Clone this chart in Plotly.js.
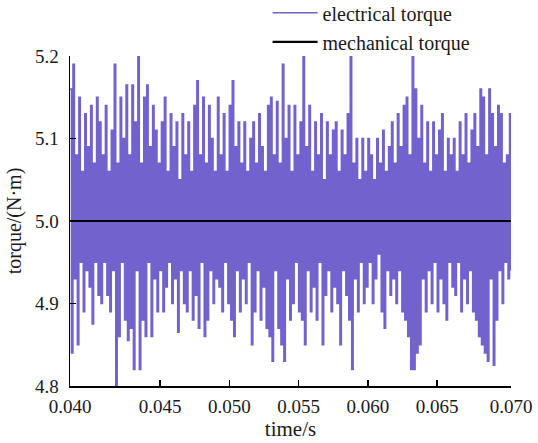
<!DOCTYPE html>
<html>
<head>
<meta charset="utf-8">
<script src="https://cdn.plot.ly/plotly-3.0.1.min.js"></script>
<style>
  html, body { margin: 0; padding: 0; background: #ffffff; }
  #chart { width: 538px; height: 443px; }
</style>
</head>
<body>
<div id="chart"></div>
<script>
// Electrical torque: successive peak (upper) and trough (lower) values
const upperPeaks = [
  5.16, 5.19, 5.08, 5.15, 5.06, 5.13, 5.09, 5.14, 5.07, 5.15,
  5.12, 5.08, 5.14, 5.06, 5.11, 5.19, 5.07, 5.15, 5.10, 5.165,
  5.08, 5.165, 5.12, 5.20, 5.07, 5.15, 5.165, 5.09, 5.14, 5.11,
  5.07, 5.12, 5.15, 5.06, 5.13, 5.09, 5.12, 5.05, 5.13, 5.08,
  5.12, 5.06, 5.14, 5.17, 5.08, 5.15, 5.07, 5.14, 5.10, 5.06,
  5.15, 5.08, 5.13, 5.06, 5.14, 5.17, 5.09, 5.12, 5.07, 5.12,
  5.06, 5.10, 5.12, 5.07, 5.13, 5.09, 5.06, 5.14, 5.15, 5.08,
  5.145, 5.07, 5.19, 5.10, 5.14, 5.06, 5.14, 5.08, 5.12, 5.20,
  5.09, 5.14, 5.06, 5.12, 5.08, 5.13, 5.05, 5.12, 5.08, 5.11,
  5.12, 5.06, 5.11, 5.08, 5.13, 5.20, 5.07, 5.10, 5.05, 5.10,
  5.06, 5.10, 5.08, 5.05, 5.10, 5.07, 5.11, 5.06, 5.09, 5.12,
  5.07, 5.13, 5.09, 5.14, 5.15, 5.08, 5.20, 5.16, 5.10, 5.14,
  5.07, 5.12, 5.06, 5.12, 5.08, 5.11, 5.13, 5.06, 5.10, 5.08,
  5.10, 5.06, 5.12, 5.08, 5.13, 5.07, 5.11, 5.13, 5.09, 5.16,
  5.15, 5.08, 5.16, 5.13, 5.09, 5.14, 5.13, 5.07, 5.08, 5.13
];
const lowerTroughs = [
  4.84, 4.93, 4.85, 4.95, 4.89, 4.94, 4.92, 4.875, 4.95, 4.91,
  4.90, 4.95, 4.91, 4.89, 4.94, 4.80, 4.86, 4.95, 4.88, 4.855,
  4.87, 4.82, 4.94, 4.82, 4.88, 4.86, 4.95, 4.86, 4.93, 4.89,
  4.94, 4.89, 4.92, 4.95, 4.90, 4.93, 4.865, 4.94, 4.90, 4.89,
  4.94, 4.88, 4.91, 4.87, 4.95, 4.86, 4.88, 4.94, 4.90, 4.93,
  4.92, 4.89, 4.95, 4.90, 4.88, 4.86, 4.94, 4.89, 4.93, 4.90,
  4.95, 4.85, 4.89, 4.94, 4.88, 4.92, 4.87, 4.86, 4.83, 4.94,
  4.87, 4.85, 4.83, 4.93, 4.88, 4.90, 4.95, 4.89, 4.88, 4.85,
  4.94, 4.89, 4.92, 4.88, 4.95, 4.85, 4.91, 4.94, 4.89, 4.92,
  4.90, 4.85, 4.94, 4.91, 4.88, 4.82, 4.93, 4.89, 4.95, 4.90,
  4.92, 4.95, 4.90, 4.93, 4.96, 4.89, 4.87, 4.94, 4.91, 4.93,
  4.90, 4.94, 4.89, 4.88, 4.86, 4.82, 4.82, 4.84, 4.85, 4.93,
  4.89, 4.94, 4.90, 4.95, 4.89, 4.93, 4.90, 4.88, 4.95, 4.92,
  4.91, 4.95, 4.89, 4.93, 4.90, 4.94, 4.89, 4.88, 4.86, 4.85,
  4.84, 4.83, 4.93, 4.825, 4.88, 4.94, 4.90, 4.95, 4.93, 4.94
];
// Mechanical torque (constant load)
const mechTorque = [5.0, 5.0];

// Time span of the plotted window (axis units as drawn in the picture)
const timeStart = 0.0385;
const timeEnd = 0.07034;

// Tick labels
const xTickVals = [0.0385, 0.045, 0.050, 0.055, 0.060, 0.065, 0.07034];
const xTickText = ['0.040', '0.045', '0.050', '0.055', '0.060', '0.065', '0.070'];
const yTickVals = [4.8, 4.9, 5.0, 5.1, 5.2];

// Build the sampled electrical torque trace (alternating peaks and troughs)
const elecTorque = [];
for (let i = 0; i < upperPeaks.length; i++) {
  elecTorque.push(upperPeaks[i]);
  elecTorque.push(lowerTroughs[i]);
}
const n = elecTorque.length;
const elecTime = elecTorque.map((_, k) => timeStart + k * (timeEnd - timeStart) / (n - 1));
const mechTime = [timeStart, timeEnd];

const serif = 'Liberation Serif, Times New Roman, serif';

const traces = [
  {
    x: elecTime, y: elecTorque, type: 'scatter', mode: 'lines',
    name: 'electrical torque',
    line: { color: 'rgb(114,98,206)', width: 1.5, shape: 'hv' }
  },
  {
    x: mechTime, y: mechTorque, type: 'scatter', mode: 'lines',
    name: 'mechanical torque',
    line: { color: '#000000', width: 2.2 }
  }
];

const layout = {
  width: 538, height: 443,
  margin: { l: 70, r: 27, t: 56, b: 57, autoexpand: false },
  paper_bgcolor: '#ffffff', plot_bgcolor: '#ffffff',
  font: { family: serif, size: 19, color: '#1a1a1a' },
  showlegend: true,
  legend: {
    x: 0.448, y: 1.19, xanchor: 'left', yanchor: 'top',
    bgcolor: 'rgba(0,0,0,0)', borderwidth: 0,
    font: { family: serif, size: 20, color: '#1a1a1a' },
    tracegroupgap: 0, itemwidth: 45
  },
  xaxis: {
    range: [timeStart, timeEnd],
    tickmode: 'array', tickvals: xTickVals, ticktext: xTickText,
    ticks: 'inside', ticklen: 6, tickwidth: 1.5, tickcolor: '#000',
    showline: true, linecolor: '#000', linewidth: 1.5,
    showgrid: false, zeroline: false,
    ticklabelstandoff: 3,
    title: { text: 'time/s', font: { family: serif, size: 21, color: '#1a1a1a' }, standoff: 4 }
  },
  yaxis: {
    range: [4.8, 5.2],
    tickmode: 'array', tickvals: yTickVals, tickformat: '.1f',
    ticks: 'inside', ticklen: 6, tickwidth: 1.5, tickcolor: '#000',
    showline: true, linecolor: '#000', linewidth: 1.5,
    showgrid: false, zeroline: false,
    ticklabelstandoff: 6,
    title: { text: 'torque/(N·m)', font: { family: serif, size: 20, color: '#1a1a1a' }, standoff: 8 }
  }
};

Plotly.newPlot('chart', traces, layout, { staticPlot: true, displayModeBar: false });
</script>
</body>
</html>
